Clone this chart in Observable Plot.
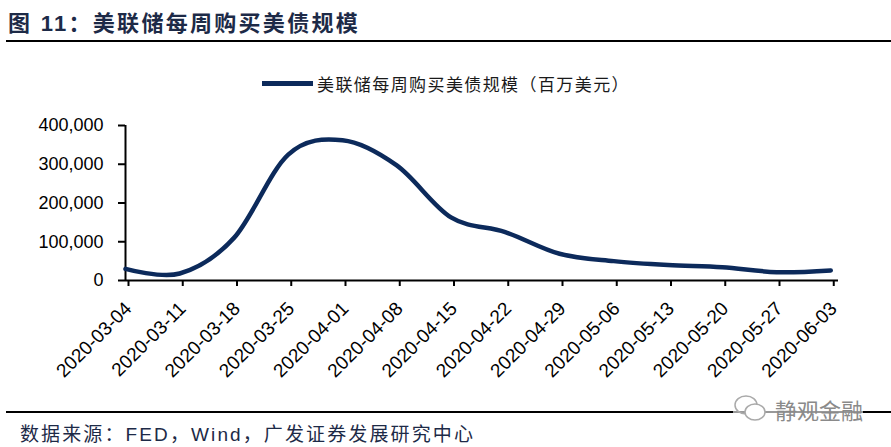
<!DOCTYPE html>
<html>
<head>
<meta charset="utf-8">
<script src="https://cdn.jsdelivr.net/npm/d3@7"></script>
<script src="https://cdn.jsdelivr.net/npm/@observablehq/plot@0.6"></script>
<style>
  body { margin:0; width:891px; height:447px; position:relative; background:#fff; overflow:hidden; font-family:"Liberation Sans","Noto Sans CJK SC",sans-serif; }
  #title { position:absolute; left:8px; top:5px; font-size:22px; font-weight:bold; color:#1d2a47; white-space:nowrap; }
  .hline { position:absolute; left:6px; right:0; height:1.5px; background:#000; }
  #legend { position:absolute; left:262px; top:71px; display:flex; align-items:center; font-size:17px; color:#1a1a1a; white-space:nowrap; }
  #legend .sw { width:51px; height:5px; background:#0c2a5b; margin-right:4px; }
  #chart { position:absolute; left:0; top:100px; }
  #footer { position:absolute; left:20px; top:419px; font-size:19px; color:#1d2a47; white-space:nowrap; }
  #wm { position:absolute; left:733px; top:393px; font-size:22px; color:#8a8a8a; white-space:nowrap; display:flex; align-items:center; background:rgba(255,255,255,0.6); }
</style>
</head>
<body>
<div id="title"><span class="fit" data-w="352">图 11：美联储每周购买美债规模</span></div>
<div class="hline" style="top:40px"></div>
<div id="legend"><div class="sw"></div><span class="fit" data-w="313">美联储每周购买美债规模（百万美元）</span></div>
<div id="chart"></div>
<div class="hline" style="top:411px"></div>
<div id="wm"><svg width="36" height="32" viewBox="0 0 36 32"><ellipse cx="13" cy="12" rx="11" ry="9" fill="none" stroke="#aaa" stroke-width="1.5"/><ellipse cx="22" cy="19" rx="10" ry="8" fill="#fff" stroke="#aaa" stroke-width="1.5"/></svg><span style="margin-left:6px">静观金融</span></div>
<div id="footer"><span class="fit" data-w="455">数据来源：FED，Wind，广发证券发展研究中心</span></div>
<script>
const dates = ["2020-03-04","2020-03-11","2020-03-18","2020-03-25","2020-04-01","2020-04-08","2020-04-15","2020-04-22","2020-04-29","2020-05-06","2020-05-13","2020-05-20","2020-05-27","2020-06-03"];
const values = [30000, 18000, 110000, 325000, 362000, 297000, 163000, 125000, 69000, 50000, 40000, 34500, 21500, 26000];
const yTicks = [0, 100000, 200000, 300000, 400000];

const parse = d3.utcParse("%Y-%m-%d");
const data = dates.map((d, i) => ({date: parse(d), value: values[i]}));
const x0 = parse(dates[0]);
const x1 = d3.utcDay.offset(parse(dates[dates.length - 1]), 1);

const chart = Plot.plot({
  width: 891,
  height: 300,
  marginLeft: 125,
  marginRight: 53,
  marginTop: 25,
  marginBottom: 120,
  style: {fontFamily: "Liberation Sans, Noto Sans CJK SC, sans-serif", fontSize: "18px", color: "#000", background: "transparent"},
  x: {type: "utc", domain: [x0, x1]},
  y: {domain: [0, 400000]},
  marks: [
    Plot.axisY({ticks: yTicks, tickFormat: d3.format(","), tickSize: 7, tickPadding: 15, strokeWidth: 2, fontSize: 18, label: null}),
    Plot.axisX({ticks: data.map(d => d.date), tickFormat: d3.utcFormat("%Y-%m-%d"), tickSize: 6, tickRotate: -45, tickPadding: 19, dx: 3, strokeWidth: 2, fontSize: 19, label: null}),
    Plot.ruleY([0], {stroke: "#000", strokeWidth: 2}),
    Plot.ruleX([x0], {y1: 0, y2: 400000, stroke: "#000", strokeWidth: 2}),
    Plot.line(data, {x: "date", y: "value", curve: "cardinal", stroke: "#0c2a5b", strokeWidth: 4.5, strokeLinecap: "round"})
  ]
});
document.getElementById("chart").appendChild(chart);

// fit text spans to the widths measured on the reference
document.querySelectorAll(".fit").forEach(el => {
  const target = +el.dataset.w;
  const n = Array.from(el.textContent).length;
  const w = el.getBoundingClientRect().width;
  el.style.letterSpacing = ((target - w) / n) + "px";
});
</script>
</body>
</html>
